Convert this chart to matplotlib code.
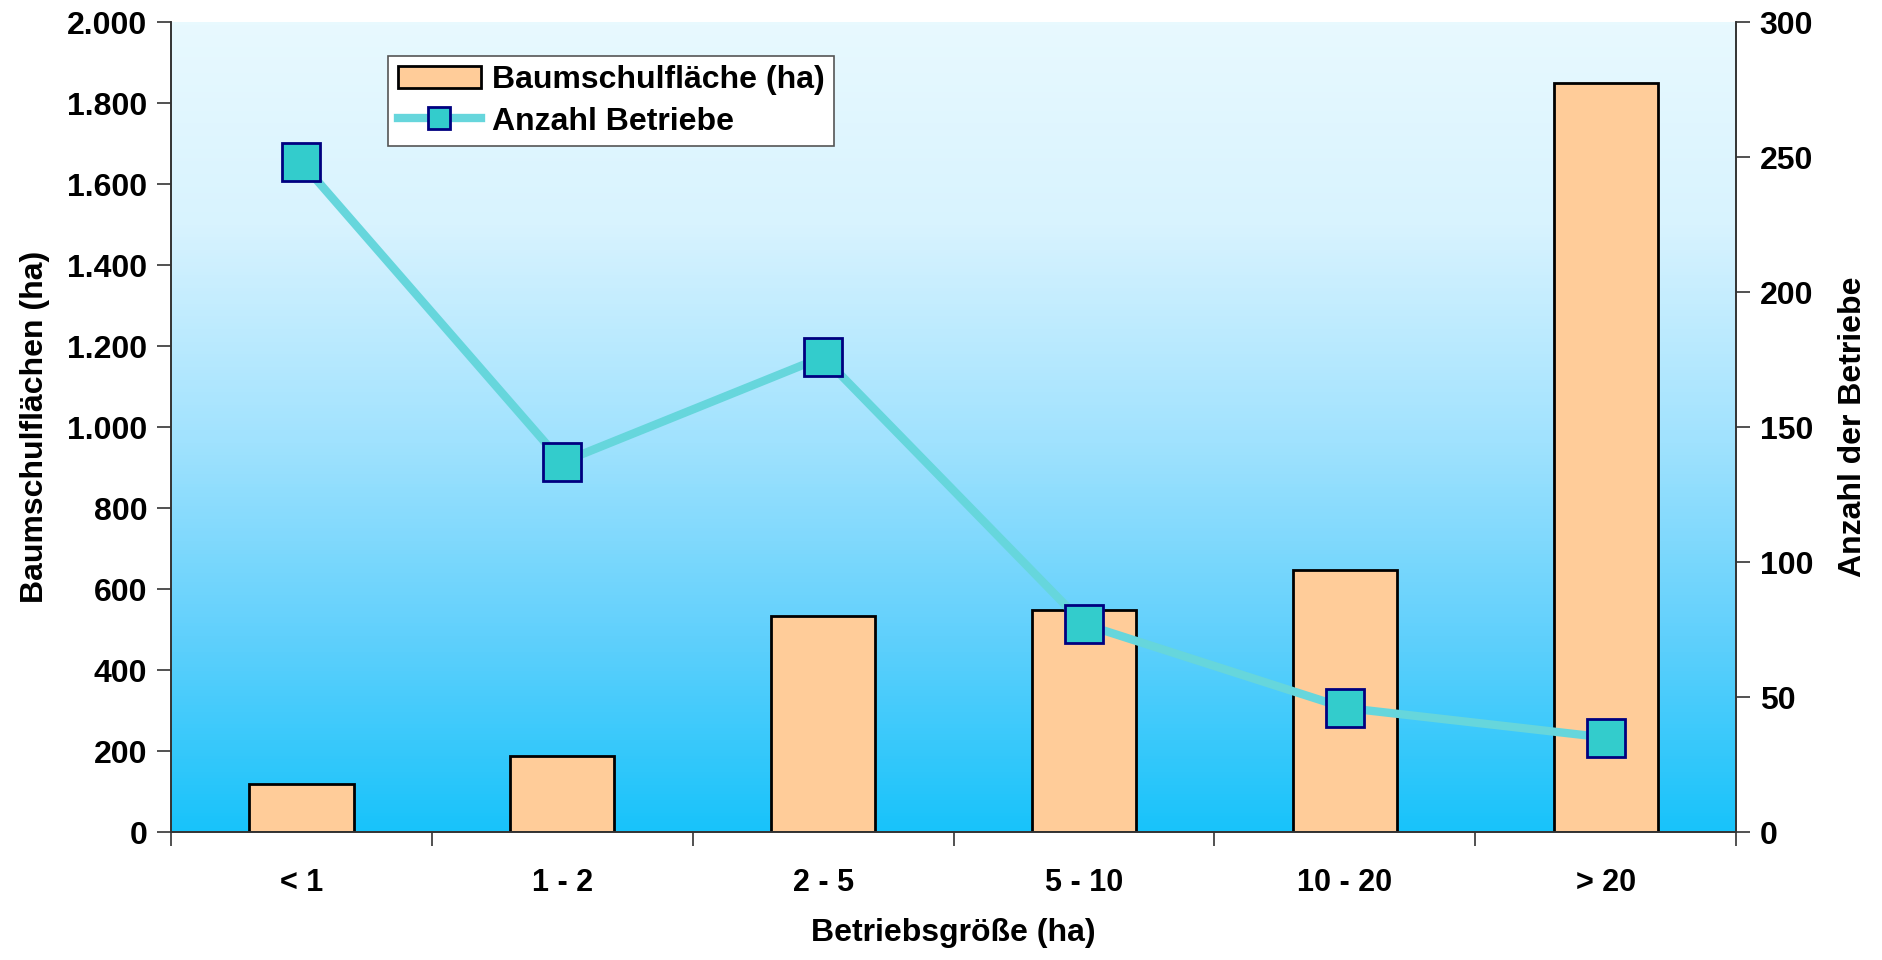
import numpy as np
from matplotlib import pyplot as plt
from matplotlib.colors import LinearSegmentedColormap
from matplotlib.lines import Line2D
import matplotlib.patches as mpatches

plt.rcParams['font.family'] = ['Liberation Sans', 'DejaVu Sans']
plt.rcParams['font.weight'] = 'bold'

categories = ["< 1", "1 - 2", "2 - 5", "5 - 10", "10 - 20", "> 20"]
flaeche = [118, 187, 534, 549, 647, 1849]
betriebe = [248, 137, 176, 77, 46, 35]

bar_color = "#FFCC99"
line_color = "#66D6DC"
marker_face = "#33CCCC"
marker_edge = "#000080"

fig = plt.figure(figsize=(18.83, 9.6), dpi=100)
ax = fig.add_axes([0.0908, 0.1333, 0.8312, 0.8437])
ax2 = ax.twinx()

x = np.arange(len(categories))

# background gradient
cmap = LinearSegmentedColormap.from_list(
    "bg", [(0.0, "#18C3FA"), (0.24, "#60D0FC"), (0.48, "#A0E2FE"),
           (0.75, "#D8F3FE"), (1.0, "#E8F9FE")])
grad = np.linspace(0, 1, 256).reshape(-1, 1)
ax.imshow(grad, aspect="auto", cmap=cmap, origin="lower",
          extent=[0, 1, 0, 1], transform=ax.transAxes, zorder=0)

ax.bar(x, flaeche, 0.4, color=bar_color, edgecolor="black", linewidth=2, zorder=2)
ax.set_xlim(-0.5, len(categories) - 0.5)
ax.set_ylim(0, 2000)
ax.set_yticks(np.arange(0, 2001, 200))
ax.set_yticklabels([f"{v:,}".replace(",", ".") for v in range(0, 2001, 200)])

ax2.plot(x, betriebe, color=line_color, linewidth=6, marker="s", markersize=27,
         markerfacecolor=marker_face, markeredgecolor=marker_edge, markeredgewidth=2,
         zorder=3)
ax2.set_ylim(0, 300)
ax2.set_yticks(np.arange(0, 301, 50))

ax.set_xticks(x)
ax.set_xticklabels(categories)
ax.set_xticks(np.arange(-0.5, len(categories)), minor=True)
ax.tick_params(axis="x", which="major", length=0, pad=26, labelsize=22)
ax.tick_params(axis="x", which="minor", length=10, width=1.2, color="#333333")
ax.tick_params(axis="y", length=10, width=1.2, color="#333333", labelsize=23, pad=7)
ax2.tick_params(axis="y", length=10, width=1.2, color="#333333", labelsize=23, pad=7)

for a in (ax, ax2):
    for s in a.spines.values():
        s.set_linewidth(1.2)
        s.set_color("#333333")
    a.spines["top"].set_visible(False)

ax.set_xlabel("Betriebsgröße (ha)", fontsize=23, fontweight="bold", labelpad=14)
ax.set_ylabel("Baumschulflächen (ha)", fontsize=23, fontweight="bold", labelpad=12)
ax2.set_ylabel("Anzahl der Betriebe", fontsize=23, fontweight="bold", labelpad=18)

bar_leg = mpatches.Patch(facecolor=bar_color, edgecolor="black", linewidth=2,
                         label="Baumschulfläche (ha)")
line_leg = Line2D([], [], color=line_color, linewidth=6, marker="s", markersize=16,
                  markerfacecolor=marker_face, markeredgecolor=marker_edge,
                  markeredgewidth=2, label="Anzahl Betriebe")
leg = ax2.legend(handles=[bar_leg, line_leg], loc="upper left",
                 bbox_to_anchor=(0.1285, 0.978), fontsize=23, frameon=True,
                 fancybox=False, edgecolor="#555555", framealpha=1,
                 handlelength=2.6, handletextpad=0.35,
                 borderpad=0.3, labelspacing=0.35)
leg.get_frame().set_linewidth(1.2)
for t in leg.get_texts():
    t.set_fontweight("bold")

fig.savefig("out.png", dpi=100)
